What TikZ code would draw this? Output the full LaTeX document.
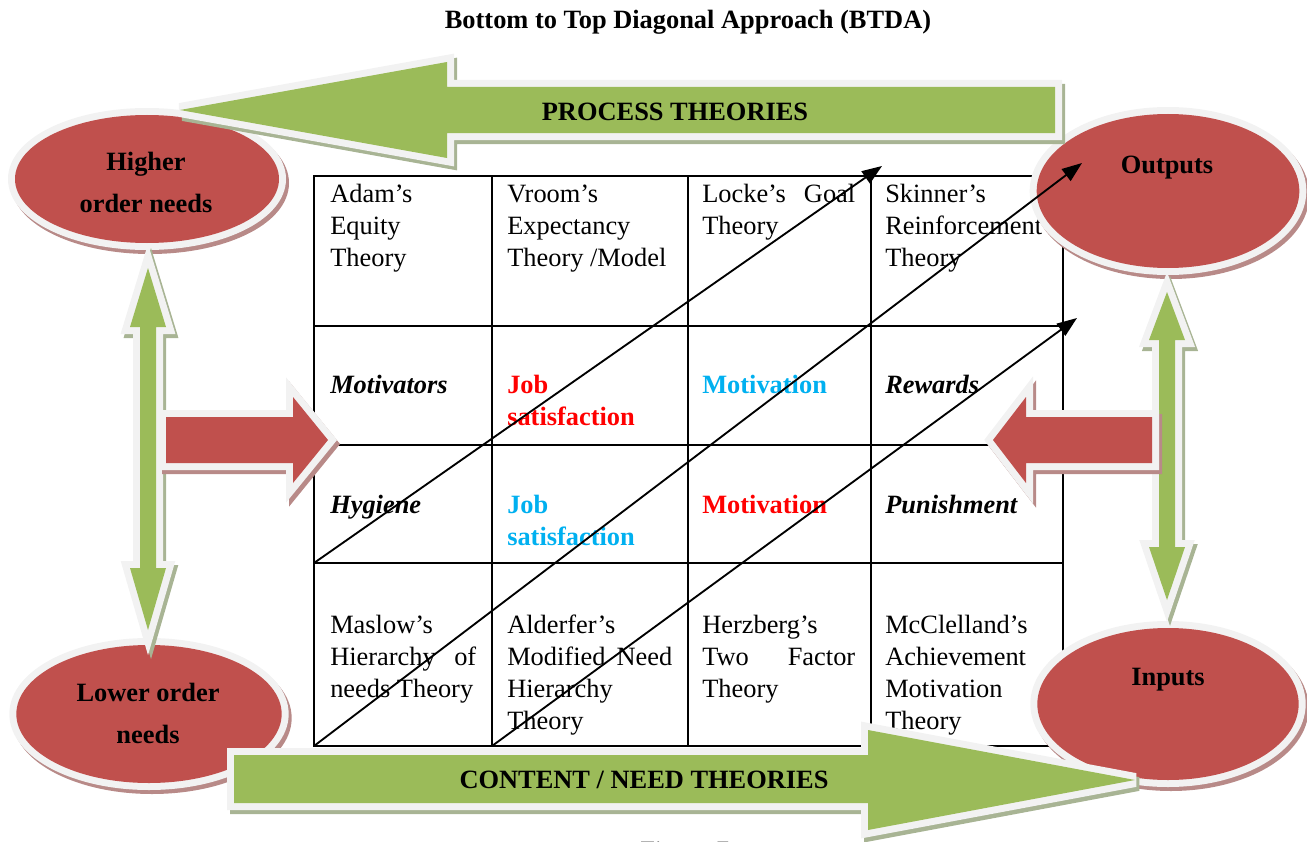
\documentclass[tikz,border=0pt]{standalone}
\usepackage{fontspec}
\setmainfont{Liberation Serif}
\usetikzlibrary{arrows.meta,shapes.geometric}
\definecolor{grn}{HTML}{9BBB59}
\definecolor{rd}{HTML}{C0504D}
\definecolor{brd}{HTML}{F2F2F2}
\definecolor{grnsh}{HTML}{A8B494}
\definecolor{rdsh}{HTML}{B88A88}
\definecolor{txtred}{HTML}{FF0000}
\definecolor{txtcyan}{HTML}{00B0F0}
\begin{document}
\begin{tikzpicture}[x=0.75pt,y=-0.75pt,
  every node/.style={inner sep=0pt, font=\fontsize{19.8}{24}\selectfont},
  cell/.style={anchor=base west, align=left},
  bd/.style={font=\fontsize{19.8}{24}\selectfont\bfseries},
  bi/.style={font=\fontsize{19.8}{24}\selectfont\bfseries\itshape},
  big/.style={font=\fontsize{19.8}{31}\selectfont\bfseries, align=center, anchor=base},
  grnshape/.style={fill=grn, line join=miter, miter limit=4,
     preaction={fill=grnsh, draw=grnsh, line width=10.5pt, line join=miter, miter limit=4, transform canvas={shift={(3,4)}}},
     preaction={draw=brd, line width=10.5pt, line join=miter, miter limit=4}},
  redshape/.style={fill=rd, line join=miter, miter limit=4,
     preaction={fill=rdsh, draw=rdsh, line width=10.5pt, line join=miter, miter limit=4, transform canvas={shift={(3,4)}}},
     preaction={draw=brd, line width=10.5pt, line join=miter, miter limit=4}},
  redell/.style={ellipse, redshape},
  diag/.style={line width=1.4pt, -{Triangle[length=15pt,width=11pt]}},
  gridline/.style={line width=1.3pt}
]
\useasboundingbox (0,0) rectangle (1307,842);

% title
\node[bd] (title) at (688,22) {Bottom to Top Diagonal Approach (BTDA)};

% table grid
\draw[gridline] (314,176) rectangle (1063,746);
\foreach \x in {492,688,871} \draw[gridline] (\x,176) -- (\x,746);
\foreach \y in {326,445,563} \draw[gridline] (314,\y) -- (1063,\y);

% row 1 (anchors at the baseline of the last line)
\node[cell] (c11) at (330,266) {Adam’s\\Equity\\Theory};
\node[cell] (c12) at (507,266) {Vroom’s\\Expectancy\\Theory /Model};
\node[cell] (c13) at (702,234) {\makebox[114.75pt][s]{Locke’s Goal}\\Theory};
\node[cell] (c14) at (885,266) {Skinner’s\\Reinforcement\\Theory};
% row 2
\node[cell,bi] (c21) at (330,393) {Motivators};
\node[cell,bd,text=txtred] (c22) at (507,425) {Job\\satisfaction};
\node[cell,bd,text=txtcyan] (c23) at (702,393) {Motivation};
\node[cell,bi] (c24) at (885,393) {Rewards};
% row 3
\node[cell,bi] (c31) at (330,513) {Hygiene};
\node[cell,bd,text=txtcyan] (c32) at (507,545) {Job\\satisfaction};
\node[cell,bd,text=txtred] (c33) at (702,513) {Motivation};
\node[cell,bi] (c34) at (885,513) {Punishment};
% row 4
\node[cell] (c41) at (330,697) {Maslow’s\\\makebox[109.5pt][s]{Hierarchy of}\\needs Theory};
\node[cell] (c42) at (507,729) {Alderfer’s\\\makebox[123.75pt][s]{Modified Need}\\Hierarchy\\Theory};
\node[cell] (c43) at (702,697) {Herzberg’s\\\makebox[114.75pt][s]{Two Factor}\\Theory};
\node[cell] (c44) at (885,729) {McClelland’s\\Achievement\\Motivation\\Theory};

% ellipses
\node[redell, minimum width=198pt, minimum height=96pt] (higher) at (147,179) {};
\node[redell, minimum width=197pt, minimum height=115.5pt] (outputs) at (1168,191) {};
\node[redell, minimum width=199pt, minimum height=103.5pt] (lower) at (149,714) {};
\node[redell, minimum width=196pt, minimum height=114pt] (inputs) at (1168,704) {};
\node[big] (highertxt) at (146,212) {Higher\\order needs};
\node[big] (outputstxt) at (1167,173) {Outputs};
\node[big] (lowertxt) at (148,743) {Lower order\\needs};
\node[big] (inputstxt) at (1168,685) {Inputs};

% vertical double arrows
\path[grnshape] (148,268) -- (166,327) -- (156,327) -- (156,568) -- (166,568) -- (148,630)
  -- (130,568) -- (140,568) -- (140,327) -- (130,327) -- cycle;
\path[grnshape] (1167,292) -- (1185,340) -- (1175,340) -- (1175,547) -- (1185,547) -- (1167,600)
  -- (1149,547) -- (1159,547) -- (1159,340) -- (1149,340) -- cycle;

% red arrows
\path[redshape] (166,417) -- (293,417) -- (293,397) -- (328,440) -- (293,483) -- (293,463) -- (166,463) -- cycle;
\path[redshape] (1152,417) -- (1026,417) -- (1026,397) -- (993,440) -- (1026,483) -- (1026,463) -- (1152,463) -- cycle;

% big green arrows
\path[grnshape] (1055,87) -- (447,87) -- (447,62) -- (180,110) -- (447,158) -- (447,133) -- (1055,133) -- cycle;
\node[bd, anchor=base] (proc) at (675,120) {PROCESS THEORIES};
\path[grnshape] (234,755) -- (868,755) -- (868,730) -- (1135,780) -- (868,830) -- (868,803) -- (234,803) -- cycle;
\node[bd, anchor=base] (cont) at (644,788) {CONTENT / NEED THEORIES};

% diagonal arrows
\coordinate (d1s) at (314,563); \coordinate (d1e) at (882,166);
\coordinate (d2s) at (314,746); \coordinate (d2e) at (1082,163);
\coordinate (d3s) at (492,746); \coordinate (d3e) at (1077,318);
\draw[diag] (d1s) -- (d1e);
\draw[diag] (d2s) -- (d2e);
\draw[diag] (d3s) -- (d3e);

% caption (cut by the page edge)
\node[anchor=base west] (fig) at (640,859) {Figure 7};
\end{tikzpicture}
\end{document}
